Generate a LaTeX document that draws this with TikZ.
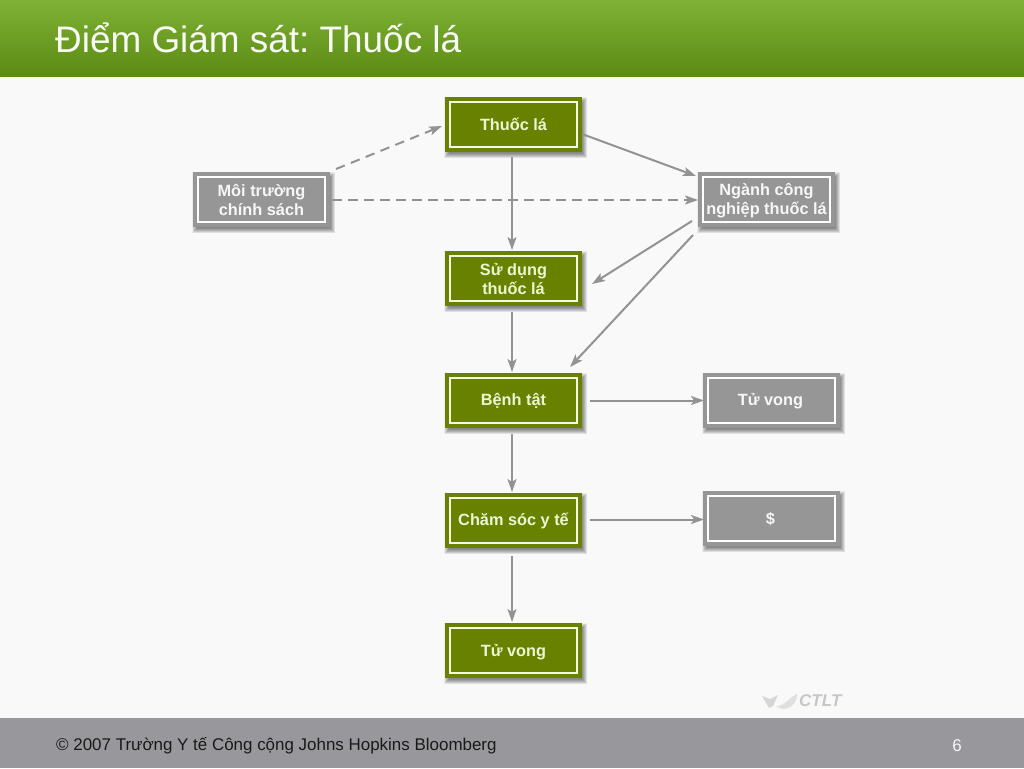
\documentclass[tikz,border=0pt]{standalone}
\usepackage{fontspec}
\setmainfont{Liberation Sans}
\usetikzlibrary{calc,arrows.meta}
\definecolor{pagebg}{HTML}{F9F9F9}
\definecolor{barTop}{HTML}{7FB236}
\definecolor{barBot}{HTML}{5B8A13}
\definecolor{footbg}{HTML}{98989C}
\definecolor{boxgreen}{HTML}{688200}
\definecolor{boxgrey}{HTML}{969696}
\definecolor{lineGrey}{HTML}{939393}
\definecolor{greentext}{HTML}{EEF5D2}
\pgfdeclarelayer{backdrop}
\pgfsetlayers{backdrop,main}
\newcommand{\ls}{\rule[-3pt]{0pt}{18pt}}
\tikzset{
  basebox/.style={rectangle,line width=4pt,double distance=2.4pt,outer sep=0pt,
    minimum width=127pt,minimum height=45pt,inner sep=0pt,align=center,
    font=\fontsize{16.3}{19}\selectfont\bfseries},
  greenbox/.style={basebox,fill=boxgreen,draw=boxgreen,double=greentext!60!white,text=greentext},
  greybox/.style={basebox,fill=boxgrey,draw=boxgrey,double=white,text=white!92!boxgrey},
  conn/.style={draw=lineGrey,line width=2pt,-{Stealth[length=13pt,width=9pt,inset=3pt]}},
  connd/.style={conn,dash pattern=on 9.5pt off 6.5pt},
}
\begin{document}
\begin{tikzpicture}[x=1pt,y=-1pt]
\frenchspacing
\useasboundingbox (0,0) rectangle (1024,768);
\node[anchor=base west,inner sep=0pt,text=white!95!barTop,font=\fontsize{36.9}{40}\selectfont] (title) at (55,52.5) {\frenchspacing Điểm Giám sát: Thuốc lá};
\node[anchor=base west,inner sep=0pt,text=black!90,font=\fontsize{16.95}{20}\selectfont] (foot) at (56,750.5) {© 2007 Trường Y tế Công cộng Johns Hopkins Bloomberg};
\node[anchor=base,inner sep=0pt,text=white!92!footbg,font=\fontsize{17}{20}\selectfont] (page) at (957,751) {6};
% logo
\fill[black!16] (762,696) -- (770,699) -- (778,695) -- (773,706) -- (769,708) -- cycle;
\fill[black!12] (776,706) .. controls (786,706) and (788,698) .. (797,694) .. controls (797,702) and (792,709) .. (782,709) -- cycle;
\node[anchor=base west,inner sep=0pt,text=black!22,font=\fontsize{17}{18}\selectfont\bfseries\itshape] (logo) at (799,706.5) {CTLT};
% boxes
\node[greenbox] (thuoc) at (513.5,124.5) {\ls Thuốc lá};
\node[greenbox] (sudung) at (513.5,278.5) {\ls Sử dụng\\\ls thuốc lá};
\node[greenbox] (benh) at (513.5,400.5) {\ls\raisebox{1pt}{Bệnh tật}};
\node[greenbox] (cham) at (513.5,520.5) {\ls\raisebox{1.5pt}{Chăm sóc y tế}};
\node[greenbox] (tuvong) at (513.5,650.5) {\ls Tử vong};
\node[greybox] (moi) at (261.5,199.5) {\ls Môi trường\\\ls chính sách};
\node[greybox] (nganh) at (766.5,199.5) {\ls Ngành công\\\ls nghiệp thuốc lá};
\node[greybox] (tvr) at (771.5,400.5) {\ls\raisebox{1pt}{\hspace*{-2pt}Tử vong}};
\node[greybox] (dollar) at (771.5,518.5) {\ls\hspace*{-2pt}\$};
% connectors
\draw[conn] ($(thuoc.center)+(-1.5,32.5)$) -- ($(sudung.center)+(-1.5,-28.5)$);
\draw[conn] ($(sudung.center)+(-1.5,33.5)$) -- ($(benh.center)+(-1.5,-28.5)$);
\draw[conn] ($(benh.center)+(-1.5,33.5)$) -- ($(cham.center)+(-1.5,-28.5)$);
\draw[conn] ($(cham.center)+(-1.5,35.5)$) -- ($(tuvong.center)+(-1.5,-28.5)$);
\draw[conn] ($(benh.center)+(76.5,0)$) -- ($(tvr.center)+(-67.5,0)$);
\draw[conn] ($(cham.center)+(76.5,-1)$) -- ($(dollar.center)+(-67.5,1)$);
\draw[conn] ($(thuoc.center)+(68.5,9.5)$) -- ($(nganh.center)+(-70.5,-23.5)$);
\draw[conn] ($(nganh.center)+(-74.5,21.5)$) -- ($(sudung.center)+(78.5,5.5)$);
\draw[conn] ($(nganh.center)+(-73.5,35.5)$) -- ($(benh.center)+(56.5,-33.5)$);
\draw[connd] ($(moi.center)+(74.5,-30.5)$) -- ($(thuoc.center)+(-71.5,1.5)$);
\draw[connd] ($(moi.center)+(70.5,0.5)$) -- ($(nganh.center)+(-68.5,0.5)$);
\begin{pgfonlayer}{backdrop}
\fill[pagebg] (0,0) rectangle (1024,768);
\shade[top color=barTop,bottom color=barBot] (0,0) rectangle (1024,76.7);
\fill[footbg] (0,718) rectangle (1024,768);
\foreach \n in {thuoc,sudung,benh,cham,tuvong,moi,nganh,tvr,dollar}{
  \foreach \g in {-2,-1.5,...,3}{
    \fill[black,opacity=.05]
      ($(\n.north west)+(-5+2-\g,-5+3-\g)$) rectangle ($(\n.south east)+(5+2+\g,5+3+\g)$);
  }
}
\end{pgfonlayer}
\end{tikzpicture}
\end{document}
